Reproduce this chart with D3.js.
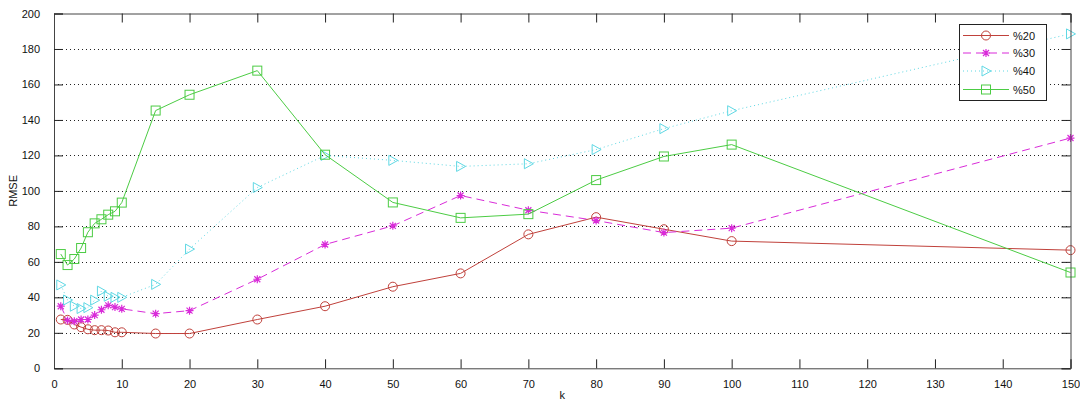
<!DOCTYPE html>
<html><head><meta charset="utf-8">
<script src="https://cdn.jsdelivr.net/npm/d3@7"></script>
<style>
html,body{margin:0;padding:0;background:#fff;}
svg{display:block;font-family:Arial,"Liberation Sans",sans-serif;}
</style></head>
<body><svg id="c" width="1080" height="403"></svg>
<script>
const kValues = [1,2,3,4,5,6,7,8,9,10,15,20,30,40,50,60,70,80,90,100,150];
const seriesNames = ["%20","%30","%40","%50"];
const s20 = [27.5,27.3,24.7,23.2,22,21.5,21.5,21.3,20.3,20.3,19.6,19.6,27.5,35,46,53.5,75.5,85.2,78.4,71.7,66.6];
const s30 = [35,27,26.5,27.5,27.5,30,33,35.5,34.5,33.5,30.8,32.5,50.2,69.8,80.3,97.4,89.1,83.3,76.5,79,129.8];
const s40 = [47,38.5,35,33.7,34.2,38.4,43.5,40.6,40,40,47.3,67.2,101.9,120,117.2,113.8,115.3,123.3,135.1,145.2,188.5];
const s50 = [64.4,58.2,61.6,67.8,76.7,81.7,84,86.6,88.5,93.4,145.3,154.2,167.8,120.4,93.5,84.8,86.9,106.1,119.4,126.1,54];
const xTicks = [0,10,20,30,40,50,60,70,80,90,100,110,120,130,140,150];
const yTicks = [0,20,40,60,80,100,120,140,160,180,200];

const svg = d3.select("#c");
const L=54, R=1070.5, T=13.5, B=368.3;
const x = d3.scaleLinear().domain([0,150]).range([L,R]);
const y = d3.scaleLinear().domain([0,200]).range([B,T]);

// grid
svg.append("g").selectAll("line").data(yTicks.filter(d=>d>0&&d<200)).join("line")
  .attr("x1",L).attr("x2",R).attr("y1",d=>Math.round(y(d))+0.5).attr("y2",d=>Math.round(y(d))+0.5)
  .attr("stroke","#222").attr("stroke-width",1).attr("stroke-dasharray","1,3");

const styles = [
 {data:s20,color:"#c0413b",dash:null,marker:"circle"},
 {data:s30,color:"#d92bd9",dash:"8,5",marker:"star"},
 {data:s40,color:"#5fd8e4",dash:"1,3",marker:"tri"},
 {data:s50,color:"#4ccc44",dash:null,marker:"square"}
];
const line = d3.line().x(d=>x(d[0])).y(d=>y(d[1]));

function drawMarker(g,type,cx,cy,color){
  if(type==="circle"){
    g.append("circle").attr("cx",cx).attr("cy",cy).attr("r",4.5).attr("fill","none").attr("stroke",color).attr("stroke-width",1);
  } else if(type==="square"){
    g.append("rect").attr("x",cx-4.5).attr("y",cy-4.5).attr("width",9).attr("height",9).attr("fill","none").attr("stroke",color).attr("stroke-width",1);
  } else if(type==="tri"){
    g.append("path").attr("d",`M${cx-4},${cy-5}L${cx+5},${cy}L${cx-4},${cy+5}Z`).attr("fill","none").attr("stroke",color).attr("stroke-width",1);
  } else if(type==="star"){
    const s=4;
    g.append("path").attr("d",`M${cx-s},${cy}L${cx+s},${cy}M${cx},${cy-s}L${cx},${cy+s}M${cx-s*0.75},${cy-s*0.75}L${cx+s*0.75},${cy+s*0.75}M${cx-s*0.75},${cy+s*0.75}L${cx+s*0.75},${cy-s*0.75}`)
      .attr("stroke",color).attr("stroke-width",1.2).attr("fill","none");
  }
}

styles.forEach(st=>{
  const pts = kValues.map((k,i)=>[k,st.data[i]]);
  const g = svg.append("g");
  g.append("path").attr("d",line(pts)).attr("fill","none").attr("stroke",st.color).attr("stroke-width",1)
    .attr("stroke-dasharray",st.dash);
  pts.forEach(p=>drawMarker(g,st.marker,x(p[0]),y(p[1]),st.color));
});

// axes
const ax = d3.axisBottom(x).tickValues(xTicks).tickSize(-9).tickPadding(12).tickFormat(d3.format("d"));
const gx = svg.append("g").attr("transform",`translate(0,${B})`).call(ax);
const axT = d3.axisTop(x).tickValues(xTicks).tickSize(-9).tickFormat("");
svg.append("g").attr("transform",`translate(0,${T})`).call(axT);
const ay = d3.axisLeft(y).tickValues(yTicks).tickSize(-9).tickPadding(14).tickFormat(d3.format("d"));
svg.append("g").attr("transform",`translate(${L},0)`).call(ay);
const ayR = d3.axisRight(y).tickValues(yTicks).tickSize(-9).tickFormat("");
svg.append("g").attr("transform",`translate(${R},0)`).call(ayR);
svg.selectAll(".domain").attr("stroke","#444");
svg.selectAll(".tick line").attr("stroke","#222");
svg.selectAll(".tick text").attr("fill","#111").style("font-size","11px").style("font-family","Arial,'Liberation Sans',sans-serif");
svg.selectAll(".domain").each(function(){});

// axis labels
svg.append("text").attr("x",(L+R)/2).attr("y",399).attr("text-anchor","middle").attr("font-size","11px").attr("fill","#111").text("k");
svg.append("text").attr("transform",`translate(17,${(T+B)/2}) rotate(-90)`).attr("text-anchor","middle").attr("font-size","11px").attr("fill","#111").text("RMSE");

// legend
const lg = svg.append("g");
lg.append("rect").attr("x",959.5).attr("y",24.5).attr("width",87).attr("height",76).attr("fill","#fff").attr("stroke","#222").attr("stroke-width",1);
const rowsY = [35.5,53,71,89.5];
styles.forEach((st,i)=>{
  const yy = rowsY[i];
  lg.append("line").attr("x1",963).attr("x2",1009).attr("y1",yy).attr("y2",yy).attr("stroke",st.color).attr("stroke-width",1).attr("stroke-dasharray",st.dash);
  drawMarker(lg,st.marker,986,yy,st.color);
  lg.append("text").attr("x",1013).attr("y",yy+4).attr("font-size","11px").attr("fill","#111").text(seriesNames[i]);
});
</script></body></html>
